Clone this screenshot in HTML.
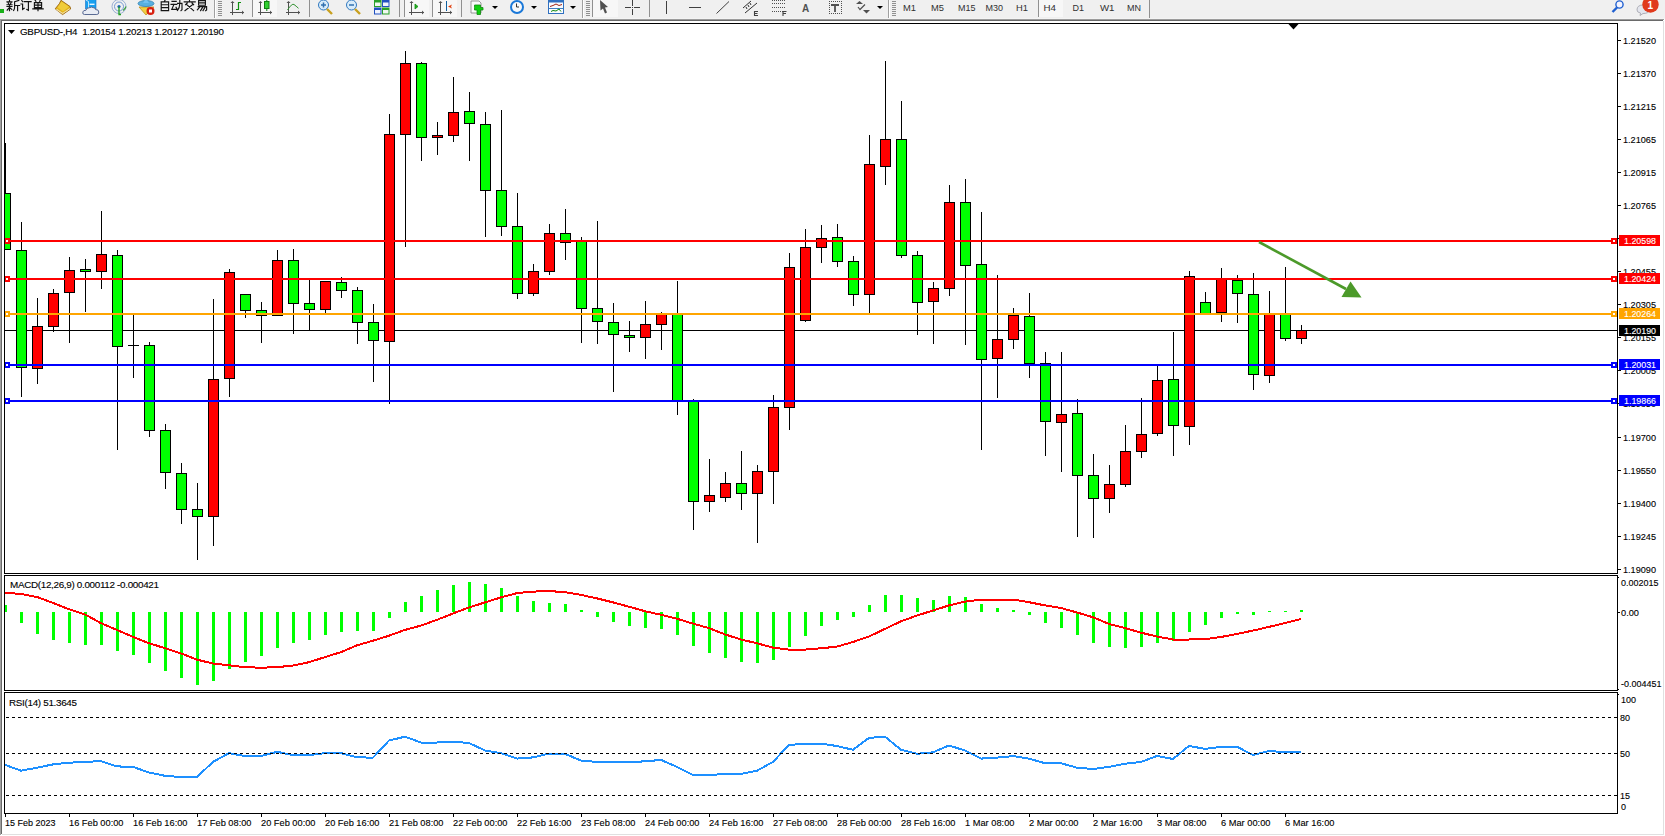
<!DOCTYPE html><html><head><meta charset="utf-8"><style>html,body{margin:0;padding:0;background:#fff;overflow:hidden}svg{display:block}text{font-family:"Liberation Sans",sans-serif}.ax text{stroke:currentColor;stroke-width:0.12px}</style></head><body><svg width="1665" height="836" viewBox="0 0 1665 836"><rect x="0" y="0" width="1665" height="836" fill="#ffffff"/><g shape-rendering="crispEdges"><rect x="0" y="0" width="1665" height="18" fill="#f0f0f0"/><rect x="0" y="18" width="1665" height="1" fill="#f4f4f4"/><rect x="0" y="19" width="1664" height="1" fill="#9c9c9c"/><rect x="1" y="20" width="1662" height="1" fill="#6a6a6a"/><rect x="0" y="20" width="1" height="815" fill="#a0a0a0"/><rect x="1" y="21" width="1" height="813" fill="#6a6a6a"/><rect x="1663" y="21" width="1" height="814" fill="#e0e0e0"/><rect x="2" y="834" width="1662" height="1" fill="#e0e0e0"/></g><g id="toolbar">
<rect x="0" y="9" width="4" height="4" fill="#18b018"/>
<!-- 新订单 approximated strokes -->
<g stroke="#141414" stroke-width="1.15" fill="none" stroke-linecap="square">
<path d="M9.5,0.3v0.8M7,1.8h5M8.2,3l0.6,1M11,3l-0.6,1M7,4.7h5M7,6.5h5M9.5,4.7v6M9.5,7.3l-2.3,2.8M9.6,7.3l2.2,2.2"/>
<path d="M18.8,0.4l-4.2,1.4M14.6,1.8v5.5q0,2.2-1,3.2M14.6,5.5h5M17.6,5.5v5.2"/>
<path d="M21.8,0.6l0.9,1M21,4h1.6v5.4l1.6-1.2M24.3,1.6h6.8M28.4,1.6v8.6l-1.6-0.8"/>
<path d="M35,0l0.9,1.3M40.5,0l-0.9,1.3M34.4,2.6h7.2v5h-7.2zM34.4,5.1h7.2M38,2.6v8.2M32.8,8.8h10.4"/>
</g>
<!-- book icon -->
<path d="M61,0.3 L70,6.5 L70.6,9 L62.6,14.6 L55.2,8.8 L59.3,3.8 Z" fill="#e2b21c" stroke="#9a6410" stroke-width="0.9" stroke-linejoin="round"/>
<path d="M61.5,1.5 L69,6.8 L63,11.5 L57.5,7.5 Z" fill="#f0cc3a"/>
<path d="M56.5,9.2 L62.6,13.4 L69.8,8.6" fill="none" stroke="#f2e2a8" stroke-width="1.1"/>
<!-- server cloud -->
<path d="M85.5,-0.5 h10.5 v9.5 h-10.5 Z" fill="#18a0f0" stroke="#1070c8" stroke-width="0.6"/>
<path d="M85.8,0 L88.5,1.5 V9" fill="none" stroke="#e8f6ff" stroke-width="0.8"/>
<rect x="89.5" y="3.6" width="5" height="1.4" fill="#e8f6ff"/>
<path d="M84.5,14.5 Q82.3,14.5 82.8,12 Q83.4,10 85.8,10.4 Q86.4,7.6 89.8,7.6 Q91.4,6.6 93.2,7.6 Q95.5,7.6 95.6,9.6 Q98.6,9.2 98.8,12 Q99,14.5 96.8,14.5 Z" fill="#e8ecf4" stroke="#485a88" stroke-width="0.9"/>
<!-- radar -->
<circle cx="119" cy="6.5" r="7" fill="none" stroke="#90a8d0" stroke-width="0.9"/>
<circle cx="119" cy="6.5" r="4.5" fill="none" stroke="#6890d0" stroke-width="0.9"/>
<path d="M119,6.5 L126,13" stroke="#60b060" stroke-width="0" fill="none"/>
<path d="M123,10.5 A7,7 0 0 0 126,6.5" stroke="#40a040" stroke-width="1.2" fill="none"/>
<circle cx="119" cy="6.5" r="1.6" fill="#2060c0"/>
<path d="M119,6.5 V14.5 H121" stroke="#20a020" stroke-width="1.3" fill="none"/>
<!-- auto trading icon -->
<path d="M139,7 L154,7 L146,15 Z" fill="#f0d040" stroke="#c09020" stroke-width="0.8"/>
<ellipse cx="146" cy="3.5" rx="8" ry="3" fill="#58b0e0" stroke="#3080b0" stroke-width="0.8"/>
<path d="M143,3 L146,-2 L149,3 Z" fill="#70c0f0"/>
<circle cx="150.5" cy="11" r="4" fill="#d82010"/>
<rect x="149" y="9.5" width="3" height="3" fill="#fff"/>
<!-- 自动交易 -->
<g stroke="#141414" stroke-width="1.15" fill="none" stroke-linecap="square">
<path d="M165.2,0l-0.8,1.3M161.2,1.8h7.4v8.8h-7.4zM161.2,4.7h7.4M161.2,7.6h7.4"/>
<path d="M172,1.4h4.2M171,4.3h5.8M174,4.3l-2.2,5h5M176,7.2l1.2,2.2M177.6,3.3h4.4v6.4l-1,0.9M179.8,0.3v3q0,4.6-2.4,7.2"/>
<path d="M189.5,0v0.8M184.2,1.8h11M187.2,3l-1.6,1.7M192,3l1.6,1.7M186.8,4.8l6.8,5.8M192.4,4.8l-7.4,5.8"/>
<path d="M198.6,0.6h6.8v4.6h-6.8zM198.6,2.9h6.8M198.2,6.6h8.4v3.3l-1,0.8M200,6.6l-2.6,3.2M202.6,7.4l-2,3.2M205,7.4l-2,3.2"/>
</g>
<!-- separators and grips -->
<g shape-rendering="crispEdges">
<rect x="214" y="0" width="1" height="18" fill="#a0a0a0"/><rect x="215" y="0" width="1" height="18" fill="#ffffff"/>
<rect x="218" y="1" width="4" height="1" fill="#909090"/><rect x="218" y="3" width="4" height="1" fill="#909090"/><rect x="218" y="5" width="4" height="1" fill="#909090"/><rect x="218" y="7" width="4" height="1" fill="#909090"/><rect x="218" y="9" width="4" height="1" fill="#909090"/><rect x="218" y="11" width="4" height="1" fill="#909090"/><rect x="218" y="13" width="4" height="1" fill="#909090"/><rect x="218" y="15" width="4" height="1" fill="#909090"/>
<rect x="252" y="0" width="1" height="17" fill="#909090"/>
<rect x="253" y="0" width="24" height="17" fill="#f7f7f7"/>
<rect x="309" y="0" width="1" height="17" fill="#909090"/>
<rect x="399" y="0" width="1" height="17" fill="#909090"/>
<rect x="404" y="0" width="1" height="17" fill="#909090"/>
<rect x="405" y="0" width="24" height="17" fill="#f7f7f7"/>
<rect x="432" y="0" width="1" height="17" fill="#909090"/>
<rect x="433" y="0" width="24" height="17" fill="#f7f7f7"/>
<rect x="461" y="0" width="1" height="17" fill="#909090"/>
<rect x="582" y="0" width="1" height="18" fill="#a0a0a0"/><rect x="583" y="0" width="1" height="18" fill="#ffffff"/>
<rect x="586" y="1" width="4" height="1" fill="#909090"/><rect x="586" y="3" width="4" height="1" fill="#909090"/><rect x="586" y="5" width="4" height="1" fill="#909090"/><rect x="586" y="7" width="4" height="1" fill="#909090"/><rect x="586" y="9" width="4" height="1" fill="#909090"/><rect x="586" y="11" width="4" height="1" fill="#909090"/><rect x="586" y="13" width="4" height="1" fill="#909090"/><rect x="586" y="15" width="4" height="1" fill="#909090"/>
<rect x="592" y="0" width="1" height="17" fill="#909090"/>
<rect x="593" y="0" width="25" height="17" fill="#f7f7f7"/>
<rect x="649" y="0" width="1" height="17" fill="#909090"/>
<rect x="888" y="0" width="1" height="18" fill="#a0a0a0"/><rect x="889" y="0" width="1" height="18" fill="#ffffff"/>
<rect x="892" y="1" width="4" height="1" fill="#909090"/><rect x="892" y="3" width="4" height="1" fill="#909090"/><rect x="892" y="5" width="4" height="1" fill="#909090"/><rect x="892" y="7" width="4" height="1" fill="#909090"/><rect x="892" y="9" width="4" height="1" fill="#909090"/><rect x="892" y="11" width="4" height="1" fill="#909090"/><rect x="892" y="13" width="4" height="1" fill="#909090"/><rect x="892" y="15" width="4" height="1" fill="#909090"/>
<rect x="1038" y="0" width="1" height="17" fill="#909090"/>
<rect x="1039" y="0" width="24" height="17" fill="#f7f7f7"/>
<rect x="1149" y="0" width="1" height="18" fill="#909090"/>
</g>
<!-- chart type icons -->
<g stroke="#505050" stroke-width="1" fill="none" shape-rendering="crispEdges">
<path d="M232.5,2v12.5M230,12.5h14M233.5,12.5h0"/>
<path d="M260.5,2v12.5M258,12.5h14"/>
<path d="M288.5,2v12.5M286,12.5h14"/>
<path d="M411.5,2v12.5M409,12.5h15"/>
<path d="M440.5,2v12.5M438,12.5h14"/>
</g>
<g fill="#505050">
<path d="M230.5,3 L232.5,1 L234.5,3Z M242,10.5 L244,12.5 L242,14.5Z"/>
<path d="M258.5,3 L260.5,1 L262.5,3Z M270,10.5 L272,12.5 L270,14.5Z"/>
<path d="M286.5,3 L288.5,1 L290.5,3Z M298,10.5 L300,12.5 L298,14.5Z"/>
<path d="M409.5,3 L411.5,1 L413.5,3Z M422,10.5 L424,12.5 L422,14.5Z"/>
<path d="M438.5,3 L440.5,1 L442.5,3Z M450,10.5 L452,12.5 L450,14.5Z"/>
</g>
<path d="M236,9.5 H238.5 V2.5 H241" stroke="#109010" stroke-width="1.2" fill="none"/>
<rect x="264.5" y="1.5" width="4.5" height="7" fill="#30d030" stroke="#108010" stroke-width="1"/>
<path d="M266.8,0v1.5M266.8,8.5v2.5" stroke="#108010" stroke-width="1"/>
<path d="M287.5,10 Q292,3 294,4.5 Q296,6 298.5,8.3" stroke="#309030" stroke-width="1" fill="none"/>
<path d="M415,4 L418,6.5 L415,9Z" fill="#20b020" stroke="#109010" stroke-width="0.8"/>
<path d="M446.5,1v10" stroke="#1060a0" stroke-width="1"/>
<path d="M448,6.5 L452,4.5 L451,6.5 L452,8.5Z" fill="#e04010"/>
<!-- zoom icons -->
<circle cx="323.5" cy="5" r="5" fill="#d8ecfa" stroke="#3078c0" stroke-width="1"/>
<path d="M321,5h5M323.5,2.5v5" stroke="#3070b0" stroke-width="1.5"/>
<path d="M327,9 L332,14" stroke="#c8a020" stroke-width="2.4"/>
<circle cx="351.5" cy="5" r="5" fill="#d8ecfa" stroke="#3078c0" stroke-width="1"/>
<path d="M349,5h5" stroke="#3070b0" stroke-width="1.5"/>
<path d="M355,9 L360,14" stroke="#c8a020" stroke-width="2.4"/>
<!-- tile windows -->
<rect x="374" y="0" width="7.5" height="7" fill="#28a028"/><rect x="382" y="0" width="7.5" height="7" fill="#2050c0"/>
<rect x="374" y="7.5" width="7.5" height="7" fill="#2050c0"/><rect x="382" y="7.5" width="7.5" height="7" fill="#28a028"/>
<rect x="375" y="2.5" width="5.5" height="3.5" fill="#f0f8f0"/><rect x="383" y="2.5" width="5.5" height="3.5" fill="#f0f4ff"/>
<rect x="375" y="10" width="5.5" height="3.5" fill="#f0f4ff"/><rect x="383" y="10" width="5.5" height="3.5" fill="#f0f8f0"/>
<!-- new indicator -->
<path d="M471,1 H479 L481,3 V13 H471 Z" fill="#fafafa" stroke="#808080" stroke-width="0.8"/>
<path d="M475.5,6 h6 v2.5 h2.5 v2.5 h-2.5 v4.5 h-3.5 v-4.5 h-2.5 v-2.5 h0Z" fill="#10d010" stroke="#108810" stroke-width="0.8" transform="translate(-1,-1)"/>
<path d="M492,6 h6 l-3,3Z" fill="#000"/>
<circle cx="517" cy="7" r="7" fill="#1a78d8"/>
<circle cx="517" cy="7" r="5" fill="#f6f8fa"/>
<path d="M516.5,3.5v3.5h2.5" stroke="#333" stroke-width="1" fill="none"/>
<path d="M531,6 h6 l-3,3Z" fill="#000"/>
<rect x="548.5" y="0" width="15" height="13.5" fill="#fafcff" stroke="#3070c0" stroke-width="1"/>
<rect x="549" y="0" width="14" height="2.5" fill="#3070c0"/>
<path d="M550,6.5 L553,5.5 L556,4 L559,5.5 L562,4.5" stroke="#a02010" stroke-width="1" fill="none"/>
<rect x="549" y="8" width="14" height="1" fill="#4080c0"/>
<path d="M551,11.5 L553,10.5 L556,11 L559,9 L561,11.5" stroke="#108810" stroke-width="1" fill="none"/>
<path d="M570,6 h6 l-3,3Z" fill="#000"/>
<!-- cursor -->
<path d="M600,0 L608,7 L605,7.5 L607,12.5 L605,13.5 L603,8.5 L600.5,10.5 Z" fill="#505050"/>
<!-- crosshair -->
<path d="M632.5,0v15M625,7.5h15" stroke="#404040" stroke-width="1" shape-rendering="crispEdges"/>
<rect x="631" y="6" width="3" height="3" fill="#f0f0f0"/>
<rect x="632" y="7" width="1" height="1" fill="#404040"/>
<path d="M666.5,1v13M689,7.5h12" stroke="#404040" stroke-width="1" shape-rendering="crispEdges"/>
<path d="M716.5,13.5 L729,1.5" stroke="#404040" stroke-width="1"/>
<path d="M743,8 L751,1 M745,13 L757,3 M746,7l1,2M748,5l1,2M750,3l1,2" stroke="#303030" stroke-width="1" fill="none"/>
<path d="M758,11.5h-3.5v4h3.5M754.5,13.5h3" stroke="#404040" stroke-width="1.1" fill="none"/>
<g fill="#505050" shape-rendering="crispEdges">
<rect x="772" y="0" width="14" height="1"/><rect x="772" y="3" width="14" height="1"/><rect x="772" y="7" width="14" height="1"/><rect x="772" y="11" width="14" height="1"/>
</g>
<g fill="#f0f0f0" shape-rendering="crispEdges">
<rect x="773" y="0" width="1" height="12"/><rect x="775" y="0" width="1" height="12"/><rect x="777" y="0" width="1" height="12"/><rect x="779" y="0" width="1" height="12"/><rect x="781" y="0" width="1" height="12"/><rect x="783" y="0" width="1" height="12"/><rect x="785" y="0" width="1" height="12"/>
</g>
<path d="M786.5,11.5h-3.5v4.5M783,13.5h3" stroke="#404040" stroke-width="1.1" fill="none"/>
<text x="802" y="12" font-size="10px" font-weight="bold" fill="#505050">A</text>
<g fill="#505050" shape-rendering="crispEdges"><rect x="829" y="1" width="1" height="1"/><rect x="829" y="13" width="1" height="1"/><rect x="831" y="1" width="1" height="1"/><rect x="831" y="13" width="1" height="1"/><rect x="833" y="1" width="1" height="1"/><rect x="833" y="13" width="1" height="1"/><rect x="835" y="1" width="1" height="1"/><rect x="835" y="13" width="1" height="1"/><rect x="837" y="1" width="1" height="1"/><rect x="837" y="13" width="1" height="1"/><rect x="839" y="1" width="1" height="1"/><rect x="839" y="13" width="1" height="1"/><rect x="841" y="1" width="1" height="1"/><rect x="841" y="13" width="1" height="1"/><rect x="829" y="3" width="1" height="1"/><rect x="841" y="3" width="1" height="1"/><rect x="829" y="5" width="1" height="1"/><rect x="841" y="5" width="1" height="1"/><rect x="829" y="7" width="1" height="1"/><rect x="841" y="7" width="1" height="1"/><rect x="829" y="9" width="1" height="1"/><rect x="841" y="9" width="1" height="1"/><rect x="829" y="11" width="1" height="1"/><rect x="841" y="11" width="1" height="1"/></g><path d="M831,5h8M835,5v7" stroke="#505050" stroke-width="1.8" fill="none"/>
<!-- arrows icon -->
<path d="M856,4 L859.5,1 L863,4 Z" fill="#505050"/>
<path d="M858,7 L860,9.5 L865,4.5" stroke="#505050" stroke-width="1.2" fill="none"/>
<path d="M863,10 L866.5,13.5 L870,10 Z" fill="#505050"/>
<path d="M877,6 h6 l-3,3Z" fill="#000"/>
</g>
<g font-size="9.4px" fill="#303030">
<text x="903" y="11" textLength="13" lengthAdjust="spacingAndGlyphs">M1</text>
<text x="931" y="11" textLength="13" lengthAdjust="spacingAndGlyphs">M5</text>
<text x="958" y="11" textLength="17.5" lengthAdjust="spacingAndGlyphs">M15</text>
<text x="985.5" y="11" textLength="17.5" lengthAdjust="spacingAndGlyphs">M30</text>
<text x="1016" y="11" textLength="12" lengthAdjust="spacingAndGlyphs">H1</text>
<text x="1043.5" y="11" textLength="12.5" lengthAdjust="spacingAndGlyphs">H4</text>
<text x="1072.5" y="11" textLength="11.5" lengthAdjust="spacingAndGlyphs">D1</text>
<text x="1100" y="11" textLength="14.5" lengthAdjust="spacingAndGlyphs">W1</text>
<text x="1127" y="11" textLength="14" lengthAdjust="spacingAndGlyphs">MN</text>
</g>
<!-- search & chat -->
<circle cx="1619.5" cy="4.5" r="3.6" fill="#f4f4ff" stroke="#2060d0" stroke-width="1.4"/>
<path d="M1617,7.5 L1612.5,12" stroke="#2060d0" stroke-width="2.4"/>
<path d="M1637,10 Q1637,5 1643,5 Q1649,5 1649,10 Q1649,13.5 1643,13.5 L1640,15.5 L1640.5,13 Q1637,12.5 1637,10Z" fill="#e4e6ee" stroke="#a0a0a8" stroke-width="0.8"/>
<circle cx="1650.5" cy="4.5" r="8.2" fill="#e03a1c"/>
<text x="1647.6" y="8.5" font-size="10px" font-family="Liberation Serif" font-weight="bold" fill="#fff">1</text>
<defs><clipPath id="mainclip"><rect x="5" y="24" width="1612" height="549"/></clipPath></defs><g shape-rendering="crispEdges" clip-path="url(#mainclip)"><rect x="5" y="330" width="1612" height="1" fill="#000"/><rect x="5" y="143" width="1" height="106" fill="#000"/><rect x="0" y="193" width="11" height="57" fill="#000"/><rect x="1" y="194" width="9" height="55" fill="#00ff00"/><rect x="21" y="222" width="1" height="175" fill="#000"/><rect x="16" y="250" width="11" height="118" fill="#000"/><rect x="17" y="251" width="9" height="116" fill="#00ff00"/><rect x="37" y="298" width="1" height="86" fill="#000"/><rect x="32" y="326" width="11" height="43" fill="#000"/><rect x="33" y="327" width="9" height="41" fill="#ff0000"/><rect x="53" y="289" width="1" height="43" fill="#000"/><rect x="48" y="293" width="11" height="34" fill="#000"/><rect x="49" y="294" width="9" height="32" fill="#ff0000"/><rect x="69" y="257" width="1" height="86" fill="#000"/><rect x="64" y="270" width="11" height="23" fill="#000"/><rect x="65" y="271" width="9" height="21" fill="#ff0000"/><rect x="85" y="259" width="1" height="53" fill="#000"/><rect x="80" y="269" width="11" height="3" fill="#000"/><rect x="81" y="270" width="9" height="1" fill="#00ff00"/><rect x="101" y="211" width="1" height="78" fill="#000"/><rect x="96" y="254" width="11" height="18" fill="#000"/><rect x="97" y="255" width="9" height="16" fill="#ff0000"/><rect x="117" y="250" width="1" height="200" fill="#000"/><rect x="112" y="255" width="11" height="92" fill="#000"/><rect x="113" y="256" width="9" height="90" fill="#00ff00"/><rect x="133" y="315" width="1" height="63" fill="#000"/><rect x="128" y="345" width="11" height="1" fill="#000"/><rect x="149" y="342" width="1" height="95" fill="#000"/><rect x="144" y="345" width="11" height="86" fill="#000"/><rect x="145" y="346" width="9" height="84" fill="#00ff00"/><rect x="165" y="424" width="1" height="65" fill="#000"/><rect x="160" y="430" width="11" height="43" fill="#000"/><rect x="161" y="431" width="9" height="41" fill="#00ff00"/><rect x="181" y="463" width="1" height="61" fill="#000"/><rect x="176" y="473" width="11" height="37" fill="#000"/><rect x="177" y="474" width="9" height="35" fill="#00ff00"/><rect x="197" y="483" width="1" height="77" fill="#000"/><rect x="192" y="509" width="11" height="8" fill="#000"/><rect x="193" y="510" width="9" height="6" fill="#00ff00"/><rect x="213" y="299" width="1" height="247" fill="#000"/><rect x="208" y="379" width="11" height="138" fill="#000"/><rect x="209" y="380" width="9" height="136" fill="#ff0000"/><rect x="229" y="269" width="1" height="128" fill="#000"/><rect x="224" y="272" width="11" height="107" fill="#000"/><rect x="225" y="273" width="9" height="105" fill="#ff0000"/><rect x="245" y="294" width="1" height="24" fill="#000"/><rect x="240" y="294" width="11" height="17" fill="#000"/><rect x="241" y="295" width="9" height="15" fill="#00ff00"/><rect x="261" y="302" width="1" height="41" fill="#000"/><rect x="256" y="310" width="11" height="6" fill="#000"/><rect x="257" y="311" width="9" height="4" fill="#00ff00"/><rect x="277" y="250" width="1" height="66" fill="#000"/><rect x="272" y="260" width="11" height="56" fill="#000"/><rect x="273" y="261" width="9" height="54" fill="#ff0000"/><rect x="293" y="249" width="1" height="85" fill="#000"/><rect x="288" y="260" width="11" height="44" fill="#000"/><rect x="289" y="261" width="9" height="42" fill="#00ff00"/><rect x="309" y="280" width="1" height="50" fill="#000"/><rect x="304" y="303" width="11" height="7" fill="#000"/><rect x="305" y="304" width="9" height="5" fill="#00ff00"/><rect x="325" y="281" width="1" height="34" fill="#000"/><rect x="320" y="281" width="11" height="29" fill="#000"/><rect x="321" y="282" width="9" height="27" fill="#ff0000"/><rect x="341" y="277" width="1" height="21" fill="#000"/><rect x="336" y="282" width="11" height="9" fill="#000"/><rect x="337" y="283" width="9" height="7" fill="#00ff00"/><rect x="357" y="287" width="1" height="57" fill="#000"/><rect x="352" y="290" width="11" height="33" fill="#000"/><rect x="353" y="291" width="9" height="31" fill="#00ff00"/><rect x="373" y="304" width="1" height="78" fill="#000"/><rect x="368" y="322" width="11" height="19" fill="#000"/><rect x="369" y="323" width="9" height="17" fill="#00ff00"/><rect x="389" y="114" width="1" height="290" fill="#000"/><rect x="384" y="134" width="11" height="208" fill="#000"/><rect x="385" y="135" width="9" height="206" fill="#ff0000"/><rect x="405" y="51" width="1" height="196" fill="#000"/><rect x="400" y="63" width="11" height="72" fill="#000"/><rect x="401" y="64" width="9" height="70" fill="#ff0000"/><rect x="421" y="62" width="1" height="99" fill="#000"/><rect x="416" y="63" width="11" height="75" fill="#000"/><rect x="417" y="64" width="9" height="73" fill="#00ff00"/><rect x="437" y="122" width="1" height="33" fill="#000"/><rect x="432" y="135" width="11" height="3" fill="#000"/><rect x="433" y="136" width="9" height="1" fill="#ff0000"/><rect x="453" y="77" width="1" height="65" fill="#000"/><rect x="448" y="112" width="11" height="24" fill="#000"/><rect x="449" y="113" width="9" height="22" fill="#ff0000"/><rect x="469" y="92" width="1" height="69" fill="#000"/><rect x="464" y="111" width="11" height="13" fill="#000"/><rect x="465" y="112" width="9" height="11" fill="#00ff00"/><rect x="485" y="112" width="1" height="125" fill="#000"/><rect x="480" y="124" width="11" height="67" fill="#000"/><rect x="481" y="125" width="9" height="65" fill="#00ff00"/><rect x="501" y="110" width="1" height="126" fill="#000"/><rect x="496" y="190" width="11" height="37" fill="#000"/><rect x="497" y="191" width="9" height="35" fill="#00ff00"/><rect x="517" y="193" width="1" height="106" fill="#000"/><rect x="512" y="226" width="11" height="68" fill="#000"/><rect x="513" y="227" width="9" height="66" fill="#00ff00"/><rect x="533" y="264" width="1" height="32" fill="#000"/><rect x="528" y="271" width="11" height="23" fill="#000"/><rect x="529" y="272" width="9" height="21" fill="#ff0000"/><rect x="549" y="224" width="1" height="51" fill="#000"/><rect x="544" y="233" width="11" height="39" fill="#000"/><rect x="545" y="234" width="9" height="37" fill="#ff0000"/><rect x="565" y="209" width="1" height="51" fill="#000"/><rect x="560" y="233" width="11" height="10" fill="#000"/><rect x="561" y="234" width="9" height="8" fill="#00ff00"/><rect x="581" y="237" width="1" height="106" fill="#000"/><rect x="576" y="241" width="11" height="68" fill="#000"/><rect x="577" y="242" width="9" height="66" fill="#00ff00"/><rect x="597" y="221" width="1" height="123" fill="#000"/><rect x="592" y="308" width="11" height="14" fill="#000"/><rect x="593" y="309" width="9" height="12" fill="#00ff00"/><rect x="613" y="303" width="1" height="89" fill="#000"/><rect x="608" y="322" width="11" height="13" fill="#000"/><rect x="609" y="323" width="9" height="11" fill="#00ff00"/><rect x="629" y="321" width="1" height="31" fill="#000"/><rect x="624" y="335" width="11" height="3" fill="#000"/><rect x="625" y="336" width="9" height="1" fill="#00ff00"/><rect x="645" y="301" width="1" height="58" fill="#000"/><rect x="640" y="324" width="11" height="14" fill="#000"/><rect x="641" y="325" width="9" height="12" fill="#ff0000"/><rect x="661" y="312" width="1" height="38" fill="#000"/><rect x="656" y="314" width="11" height="11" fill="#000"/><rect x="657" y="315" width="9" height="9" fill="#ff0000"/><rect x="677" y="281" width="1" height="134" fill="#000"/><rect x="672" y="314" width="11" height="87" fill="#000"/><rect x="673" y="315" width="9" height="85" fill="#00ff00"/><rect x="693" y="399" width="1" height="131" fill="#000"/><rect x="688" y="400" width="11" height="102" fill="#000"/><rect x="689" y="401" width="9" height="100" fill="#00ff00"/><rect x="709" y="459" width="1" height="53" fill="#000"/><rect x="704" y="495" width="11" height="7" fill="#000"/><rect x="705" y="496" width="9" height="5" fill="#ff0000"/><rect x="725" y="472" width="1" height="30" fill="#000"/><rect x="720" y="483" width="11" height="15" fill="#000"/><rect x="721" y="484" width="9" height="13" fill="#ff0000"/><rect x="741" y="451" width="1" height="59" fill="#000"/><rect x="736" y="483" width="11" height="11" fill="#000"/><rect x="737" y="484" width="9" height="9" fill="#00ff00"/><rect x="757" y="465" width="1" height="78" fill="#000"/><rect x="752" y="471" width="11" height="23" fill="#000"/><rect x="753" y="472" width="9" height="21" fill="#ff0000"/><rect x="773" y="395" width="1" height="109" fill="#000"/><rect x="768" y="407" width="11" height="65" fill="#000"/><rect x="769" y="408" width="9" height="63" fill="#ff0000"/><rect x="789" y="253" width="1" height="177" fill="#000"/><rect x="784" y="267" width="11" height="141" fill="#000"/><rect x="785" y="268" width="9" height="139" fill="#ff0000"/><rect x="805" y="229" width="1" height="93" fill="#000"/><rect x="800" y="247" width="11" height="74" fill="#000"/><rect x="801" y="248" width="9" height="72" fill="#ff0000"/><rect x="821" y="225" width="1" height="38" fill="#000"/><rect x="816" y="238" width="11" height="10" fill="#000"/><rect x="817" y="239" width="9" height="8" fill="#ff0000"/><rect x="837" y="224" width="1" height="43" fill="#000"/><rect x="832" y="237" width="11" height="25" fill="#000"/><rect x="833" y="238" width="9" height="23" fill="#00ff00"/><rect x="853" y="256" width="1" height="50" fill="#000"/><rect x="848" y="261" width="11" height="34" fill="#000"/><rect x="849" y="262" width="9" height="32" fill="#00ff00"/><rect x="869" y="135" width="1" height="178" fill="#000"/><rect x="864" y="164" width="11" height="131" fill="#000"/><rect x="865" y="165" width="9" height="129" fill="#ff0000"/><rect x="885" y="61" width="1" height="124" fill="#000"/><rect x="880" y="139" width="11" height="28" fill="#000"/><rect x="881" y="140" width="9" height="26" fill="#ff0000"/><rect x="901" y="101" width="1" height="157" fill="#000"/><rect x="896" y="139" width="11" height="117" fill="#000"/><rect x="897" y="140" width="9" height="115" fill="#00ff00"/><rect x="917" y="251" width="1" height="84" fill="#000"/><rect x="912" y="255" width="11" height="48" fill="#000"/><rect x="913" y="256" width="9" height="46" fill="#00ff00"/><rect x="933" y="282" width="1" height="62" fill="#000"/><rect x="928" y="288" width="11" height="14" fill="#000"/><rect x="929" y="289" width="9" height="12" fill="#ff0000"/><rect x="949" y="185" width="1" height="111" fill="#000"/><rect x="944" y="202" width="11" height="87" fill="#000"/><rect x="945" y="203" width="9" height="85" fill="#ff0000"/><rect x="965" y="179" width="1" height="166" fill="#000"/><rect x="960" y="202" width="11" height="64" fill="#000"/><rect x="961" y="203" width="9" height="62" fill="#00ff00"/><rect x="981" y="212" width="1" height="238" fill="#000"/><rect x="976" y="264" width="11" height="96" fill="#000"/><rect x="977" y="265" width="9" height="94" fill="#00ff00"/><rect x="997" y="275" width="1" height="123" fill="#000"/><rect x="992" y="339" width="11" height="20" fill="#000"/><rect x="993" y="340" width="9" height="18" fill="#ff0000"/><rect x="1013" y="308" width="1" height="41" fill="#000"/><rect x="1008" y="315" width="11" height="25" fill="#000"/><rect x="1009" y="316" width="9" height="23" fill="#ff0000"/><rect x="1029" y="293" width="1" height="85" fill="#000"/><rect x="1024" y="316" width="11" height="48" fill="#000"/><rect x="1025" y="317" width="9" height="46" fill="#00ff00"/><rect x="1045" y="352" width="1" height="104" fill="#000"/><rect x="1040" y="363" width="11" height="59" fill="#000"/><rect x="1041" y="364" width="9" height="57" fill="#00ff00"/><rect x="1061" y="352" width="1" height="120" fill="#000"/><rect x="1056" y="414" width="11" height="9" fill="#000"/><rect x="1057" y="415" width="9" height="7" fill="#ff0000"/><rect x="1077" y="399" width="1" height="138" fill="#000"/><rect x="1072" y="413" width="11" height="63" fill="#000"/><rect x="1073" y="414" width="9" height="61" fill="#00ff00"/><rect x="1093" y="454" width="1" height="84" fill="#000"/><rect x="1088" y="475" width="11" height="24" fill="#000"/><rect x="1089" y="476" width="9" height="22" fill="#00ff00"/><rect x="1109" y="465" width="1" height="48" fill="#000"/><rect x="1104" y="484" width="11" height="15" fill="#000"/><rect x="1105" y="485" width="9" height="13" fill="#ff0000"/><rect x="1125" y="425" width="1" height="62" fill="#000"/><rect x="1120" y="451" width="11" height="34" fill="#000"/><rect x="1121" y="452" width="9" height="32" fill="#ff0000"/><rect x="1141" y="398" width="1" height="60" fill="#000"/><rect x="1136" y="434" width="11" height="18" fill="#000"/><rect x="1137" y="435" width="9" height="16" fill="#ff0000"/><rect x="1157" y="365" width="1" height="71" fill="#000"/><rect x="1152" y="380" width="11" height="54" fill="#000"/><rect x="1153" y="381" width="9" height="52" fill="#ff0000"/><rect x="1173" y="332" width="1" height="124" fill="#000"/><rect x="1168" y="379" width="11" height="47" fill="#000"/><rect x="1169" y="380" width="9" height="45" fill="#00ff00"/><rect x="1189" y="271" width="1" height="174" fill="#000"/><rect x="1184" y="276" width="11" height="151" fill="#000"/><rect x="1185" y="277" width="9" height="149" fill="#ff0000"/><rect x="1205" y="292" width="1" height="21" fill="#000"/><rect x="1200" y="302" width="11" height="12" fill="#000"/><rect x="1201" y="303" width="9" height="10" fill="#00ff00"/><rect x="1221" y="268" width="1" height="54" fill="#000"/><rect x="1216" y="279" width="11" height="34" fill="#000"/><rect x="1217" y="280" width="9" height="32" fill="#ff0000"/><rect x="1237" y="275" width="1" height="48" fill="#000"/><rect x="1232" y="280" width="11" height="14" fill="#000"/><rect x="1233" y="281" width="9" height="12" fill="#00ff00"/><rect x="1253" y="273" width="1" height="117" fill="#000"/><rect x="1248" y="294" width="11" height="81" fill="#000"/><rect x="1249" y="295" width="9" height="79" fill="#00ff00"/><rect x="1269" y="291" width="1" height="92" fill="#000"/><rect x="1264" y="314" width="11" height="62" fill="#000"/><rect x="1265" y="315" width="9" height="60" fill="#ff0000"/><rect x="1285" y="267" width="1" height="74" fill="#000"/><rect x="1280" y="314" width="11" height="25" fill="#000"/><rect x="1281" y="315" width="9" height="23" fill="#00ff00"/><rect x="1301" y="325" width="1" height="19" fill="#000"/><rect x="1296" y="330" width="11" height="9" fill="#000"/><rect x="1297" y="331" width="9" height="7" fill="#ff0000"/></g><g shape-rendering="crispEdges"><rect x="5" y="240" width="1612" height="2" fill="#ff0000"/><rect x="4" y="238" width="6" height="6" fill="#ff0000"/><rect x="6" y="240" width="2" height="2" fill="#fff"/><rect x="1611" y="238" width="6" height="6" fill="#ff0000"/><rect x="1613" y="240" width="2" height="2" fill="#fff"/><rect x="5" y="278" width="1612" height="2" fill="#ff0000"/><rect x="4" y="276" width="6" height="6" fill="#ff0000"/><rect x="6" y="278" width="2" height="2" fill="#fff"/><rect x="1611" y="276" width="6" height="6" fill="#ff0000"/><rect x="1613" y="278" width="2" height="2" fill="#fff"/><rect x="5" y="313" width="1612" height="2" fill="#ffa500"/><rect x="4" y="311" width="6" height="6" fill="#ffa500"/><rect x="6" y="313" width="2" height="2" fill="#fff"/><rect x="1611" y="311" width="6" height="6" fill="#ffa500"/><rect x="1613" y="313" width="2" height="2" fill="#fff"/><rect x="5" y="364" width="1612" height="2" fill="#0000ff"/><rect x="4" y="362" width="6" height="6" fill="#0000ff"/><rect x="6" y="364" width="2" height="2" fill="#fff"/><rect x="1611" y="362" width="6" height="6" fill="#0000ff"/><rect x="1613" y="364" width="2" height="2" fill="#fff"/><rect x="5" y="400" width="1612" height="2" fill="#0000ff"/><rect x="4" y="398" width="6" height="6" fill="#0000ff"/><rect x="6" y="400" width="2" height="2" fill="#fff"/><rect x="1611" y="398" width="6" height="6" fill="#0000ff"/><rect x="1613" y="400" width="2" height="2" fill="#fff"/></g><line x1="1259" y1="242" x2="1346" y2="289" stroke="#4c9a2a" stroke-width="2.6"/><polygon points="1350.5,281.5 1341.5,297 1361.5,297.5" fill="#4c9a2a"/><g shape-rendering="crispEdges" fill="#000"><rect x="4" y="23" width="1614" height="1"/><rect x="4" y="23" width="1" height="551"/><rect x="4" y="573" width="1614" height="1"/><rect x="1617" y="23" width="1" height="551"/><rect x="4" y="575" width="1614" height="1"/><rect x="4" y="575" width="1" height="116"/><rect x="4" y="690" width="1614" height="1"/><rect x="1617" y="575" width="1" height="116"/><rect x="4" y="692" width="1614" height="1"/><rect x="4" y="692" width="1" height="122"/><rect x="4" y="813" width="1614" height="1"/><rect x="1617" y="692" width="1" height="122"/></g><g shape-rendering="crispEdges" fill="#000"><rect x="1618" y="40" width="3" height="1"/><rect x="1618" y="73" width="3" height="1"/><rect x="1618" y="106" width="3" height="1"/><rect x="1618" y="139" width="3" height="1"/><rect x="1618" y="172" width="3" height="1"/><rect x="1618" y="205" width="3" height="1"/><rect x="1618" y="238" width="3" height="1"/><rect x="1618" y="271" width="3" height="1"/><rect x="1618" y="304" width="3" height="1"/><rect x="1618" y="337" width="3" height="1"/><rect x="1618" y="370" width="3" height="1"/><rect x="1618" y="403" width="3" height="1"/><rect x="1618" y="437" width="3" height="1"/><rect x="1618" y="470" width="3" height="1"/><rect x="1618" y="503" width="3" height="1"/><rect x="1618" y="536" width="3" height="1"/><rect x="1618" y="569" width="3" height="1"/></g><g class="ax" font-size="9.9px" fill="#000" color="#000"><text x="1623" y="44" textLength="33" lengthAdjust="spacingAndGlyphs">1.21520</text><text x="1623" y="77" textLength="33" lengthAdjust="spacingAndGlyphs">1.21370</text><text x="1623" y="110" textLength="33" lengthAdjust="spacingAndGlyphs">1.21215</text><text x="1623" y="143" textLength="33" lengthAdjust="spacingAndGlyphs">1.21065</text><text x="1623" y="176" textLength="33" lengthAdjust="spacingAndGlyphs">1.20915</text><text x="1623" y="209" textLength="33" lengthAdjust="spacingAndGlyphs">1.20765</text><text x="1623" y="242" textLength="33" lengthAdjust="spacingAndGlyphs">1.20610</text><text x="1623" y="275" textLength="33" lengthAdjust="spacingAndGlyphs">1.20455</text><text x="1623" y="308" textLength="33" lengthAdjust="spacingAndGlyphs">1.20305</text><text x="1623" y="341" textLength="33" lengthAdjust="spacingAndGlyphs">1.20155</text><text x="1623" y="374" textLength="33" lengthAdjust="spacingAndGlyphs">1.20005</text><text x="1623" y="407" textLength="33" lengthAdjust="spacingAndGlyphs">1.19850</text><text x="1623" y="441" textLength="33" lengthAdjust="spacingAndGlyphs">1.19700</text><text x="1623" y="474" textLength="33" lengthAdjust="spacingAndGlyphs">1.19550</text><text x="1623" y="507" textLength="33" lengthAdjust="spacingAndGlyphs">1.19400</text><text x="1623" y="540" textLength="33" lengthAdjust="spacingAndGlyphs">1.19245</text><text x="1623" y="573" textLength="33" lengthAdjust="spacingAndGlyphs">1.19090</text></g><g shape-rendering="crispEdges"><rect x="1619" y="235" width="41" height="11" fill="#ff0000"/><rect x="1619" y="273" width="41" height="11" fill="#ff0000"/><rect x="1619" y="308" width="41" height="11" fill="#ffa500"/><rect x="1619" y="359" width="41" height="11" fill="#0000ff"/><rect x="1619" y="395" width="41" height="11" fill="#0000ff"/><rect x="1619" y="325" width="41" height="11" fill="#000"/></g><g class="ax" font-size="9.9px" fill="#fff" color="#fff"><text x="1624" y="244" textLength="32" lengthAdjust="spacingAndGlyphs">1.20598</text><text x="1624" y="282" textLength="32" lengthAdjust="spacingAndGlyphs">1.20424</text><text x="1624" y="317" textLength="32" lengthAdjust="spacingAndGlyphs">1.20264</text><text x="1624" y="368" textLength="32" lengthAdjust="spacingAndGlyphs">1.20031</text><text x="1624" y="404" textLength="32" lengthAdjust="spacingAndGlyphs">1.19866</text><text x="1624" y="334" textLength="32" lengthAdjust="spacingAndGlyphs">1.20190</text></g><polygon points="1287.5,23 1299.5,23 1293.5,29.5" fill="#000"/><polygon points="8,30 15,30 11.5,34" fill="#000"/><text x="20" y="35" font-size="9.8px" fill="#000" stroke="#000" stroke-width="0.12" textLength="204" lengthAdjust="spacing" xml:space="preserve">GBPUSD-,H4&#160; 1.20154 1.20213 1.20127 1.20190</text><g shape-rendering="crispEdges" fill="#00ff00"><rect x="5" y="605" width="2" height="7"/><rect x="20" y="612" width="3" height="11"/><rect x="36" y="612" width="3" height="22"/><rect x="52" y="612" width="3" height="28"/><rect x="68" y="612" width="3" height="31"/><rect x="84" y="612" width="3" height="33"/><rect x="100" y="612" width="3" height="33"/><rect x="116" y="612" width="3" height="39"/><rect x="132" y="612" width="3" height="43"/><rect x="148" y="612" width="3" height="51"/><rect x="164" y="612" width="3" height="59"/><rect x="180" y="612" width="3" height="66"/><rect x="196" y="612" width="3" height="73"/><rect x="212" y="612" width="3" height="69"/><rect x="228" y="612" width="3" height="57"/><rect x="244" y="612" width="3" height="50"/><rect x="260" y="612" width="3" height="44"/><rect x="276" y="612" width="3" height="36"/><rect x="292" y="612" width="3" height="31"/><rect x="308" y="612" width="3" height="28"/><rect x="324" y="612" width="3" height="23"/><rect x="340" y="612" width="3" height="20"/><rect x="356" y="612" width="3" height="19"/><rect x="372" y="612" width="3" height="19"/><rect x="388" y="612" width="3" height="6"/><rect x="404" y="602" width="3" height="10"/><rect x="420" y="596" width="3" height="16"/><rect x="436" y="590" width="3" height="22"/><rect x="452" y="585" width="3" height="27"/><rect x="468" y="582" width="3" height="30"/><rect x="484" y="584" width="3" height="28"/><rect x="500" y="588" width="3" height="24"/><rect x="516" y="596" width="3" height="16"/><rect x="532" y="601" width="3" height="11"/><rect x="548" y="603" width="3" height="9"/><rect x="564" y="604" width="3" height="8"/><rect x="580" y="610" width="3" height="2"/><rect x="596" y="612" width="3" height="5"/><rect x="612" y="612" width="3" height="10"/><rect x="628" y="612" width="3" height="14"/><rect x="644" y="612" width="3" height="16"/><rect x="660" y="612" width="3" height="17"/><rect x="676" y="612" width="3" height="23"/><rect x="692" y="612" width="3" height="34"/><rect x="708" y="612" width="3" height="41"/><rect x="724" y="612" width="3" height="46"/><rect x="740" y="612" width="3" height="50"/><rect x="756" y="612" width="3" height="51"/><rect x="772" y="612" width="3" height="48"/><rect x="788" y="612" width="3" height="35"/><rect x="804" y="612" width="3" height="24"/><rect x="820" y="612" width="3" height="14"/><rect x="836" y="612" width="3" height="8"/><rect x="852" y="612" width="3" height="5"/><rect x="868" y="605" width="3" height="7"/><rect x="884" y="595" width="3" height="17"/><rect x="900" y="595" width="3" height="17"/><rect x="916" y="598" width="3" height="14"/><rect x="932" y="600" width="3" height="12"/><rect x="948" y="596" width="3" height="16"/><rect x="964" y="597" width="3" height="15"/><rect x="980" y="604" width="3" height="8"/><rect x="996" y="608" width="3" height="4"/><rect x="1012" y="610" width="3" height="2"/><rect x="1028" y="612" width="3" height="3"/><rect x="1044" y="612" width="3" height="11"/><rect x="1060" y="612" width="3" height="16"/><rect x="1076" y="612" width="3" height="23"/><rect x="1092" y="612" width="3" height="31"/><rect x="1108" y="612" width="3" height="35"/><rect x="1124" y="612" width="3" height="36"/><rect x="1140" y="612" width="3" height="35"/><rect x="1156" y="612" width="3" height="31"/><rect x="1172" y="612" width="3" height="29"/><rect x="1188" y="612" width="3" height="20"/><rect x="1204" y="612" width="3" height="13"/><rect x="1220" y="612" width="3" height="6"/><rect x="1236" y="612" width="3" height="2"/><rect x="1252" y="612" width="3" height="3"/><rect x="1268" y="611" width="3" height="1"/><rect x="1284" y="611" width="3" height="1"/><rect x="1300" y="610" width="3" height="2"/></g><polyline points="5,592.7 21,594.0 37,597.0 53,602.9 69,609.2 85,614.4 101,623.2 117,630.0 133,636.9 149,643.2 165,648.2 181,653.4 197,659.7 213,663.5 229,665.2 245,667.2 261,667.7 277,667.2 293,665.5 309,662.2 325,657.1 341,652.1 357,645.3 373,640.7 389,635.7 405,629.9 421,625.6 437,619.8 453,613.5 469,607.5 485,602.4 501,597.4 517,593.1 533,591.6 549,591.1 565,592.1 581,594.9 597,598.4 613,602.4 629,606.7 645,611.2 661,614.8 677,618.8 693,623.6 709,628.1 725,634.4 741,639.5 757,643.3 773,647.6 789,649.6 805,649.6 821,648.3 837,646.6 853,642.0 869,636.5 885,628.9 901,621.3 917,615.5 933,610.5 949,605.4 965,601.6 981,599.6 997,599.6 1013,599.6 1029,602.2 1045,605.4 1061,608.0 1077,612.5 1093,617.3 1109,623.9 1125,628.1 1141,632.7 1157,636.5 1173,639.5 1189,639.5 1205,639.2 1221,637.0 1237,633.9 1253,630.6 1269,626.9 1285,623.0 1301,619.1" fill="none" stroke="#ff0000" stroke-width="2" stroke-linejoin="round" shape-rendering="crispEdges"/><rect x="4" y="576" width="1" height="114" fill="#000"/><text x="10" y="588" font-size="9.9px" fill="#000" stroke="#000" stroke-width="0.12" textLength="149" lengthAdjust="spacing">MACD(12,26,9) 0.000112 -0.000421</text><g shape-rendering="crispEdges" fill="#000"><rect x="1618" y="577" width="1" height="1"/><rect x="1618" y="612" width="2" height="1"/><rect x="1618" y="689" width="1" height="1"/></g><g class="ax" font-size="9.9px" fill="#000" color="#000"><text x="1621" y="586" textLength="37.5" lengthAdjust="spacingAndGlyphs">0.002015</text><text x="1621" y="616" textLength="18" lengthAdjust="spacingAndGlyphs">0.00</text><text x="1621" y="687" textLength="40.5" lengthAdjust="spacingAndGlyphs">-0.004451</text></g><polyline points="5,764.9 21,770.7 37,767.7 53,764.4 69,762.7 85,761.9 101,761.1 117,766.4 133,766.9 149,772.5 165,775.8 181,777 197,777 213,761.9 229,753.1 245,756.1 261,756.1 277,751.8 293,755.1 309,755.1 325,753.1 341,753.1 357,757.4 373,757.6 389,740.5 405,736.7 421,742.5 437,742.5 453,741.7 469,743 485,750.5 501,753.1 517,758.6 533,757.4 549,753.6 565,753.8 581,760.6 597,761.9 613,761.9 629,761.9 645,761.4 661,759.9 677,766.9 693,775 709,775 725,774 741,774 757,770.7 773,761.9 789,744.7 805,744.2 821,743.7 837,746 853,749.8 869,737.9 885,736.7 901,749.8 917,753.8 933,752.3 949,745.5 965,750.5 981,758.6 997,757.6 1013,756.1 1029,758.6 1045,763.2 1061,763.2 1077,767.7 1093,769 1109,766.9 1125,763.7 1141,761.9 1157,755.9 1173,759 1189,745.9 1205,748.9 1221,746.8 1237,746.8 1253,755 1269,751.1 1285,752 1301,751.7" fill="none" stroke="#1e90ff" stroke-width="2" stroke-linejoin="round" shape-rendering="crispEdges"/><g shape-rendering="crispEdges"><line x1="6" y1="717.5" x2="1617" y2="717.5" stroke="#000" stroke-width="1" stroke-dasharray="3 3" stroke-dashoffset="0"/><line x1="6" y1="753.5" x2="1617" y2="753.5" stroke="#000" stroke-width="1" stroke-dasharray="3 3" stroke-dashoffset="0"/><line x1="6" y1="795.5" x2="1617" y2="795.5" stroke="#000" stroke-width="1" stroke-dasharray="3 3" stroke-dashoffset="0"/></g><rect x="4" y="693" width="1" height="120" fill="#000"/><text x="9" y="706" font-size="9.9px" fill="#000" stroke="#000" stroke-width="0.12" textLength="68" lengthAdjust="spacing">RSI(14) 51.3645</text><g shape-rendering="crispEdges" fill="#000"><rect x="1618" y="694" width="1" height="1"/></g><g class="ax" font-size="9.9px" fill="#000" color="#000"><text x="1621" y="703" textLength="15" lengthAdjust="spacingAndGlyphs">100</text><text x="1620" y="721" textLength="10" lengthAdjust="spacingAndGlyphs">80</text><text x="1620" y="757" textLength="10" lengthAdjust="spacingAndGlyphs">50</text><text x="1620" y="799" textLength="10" lengthAdjust="spacingAndGlyphs">15</text><text x="1621" y="810" textLength="5" lengthAdjust="spacingAndGlyphs">0</text></g><g shape-rendering="crispEdges" fill="#000"><rect x="5" y="814" width="1" height="3"/><rect x="69" y="814" width="1" height="3"/><rect x="133" y="814" width="1" height="3"/><rect x="197" y="814" width="1" height="3"/><rect x="261" y="814" width="1" height="3"/><rect x="325" y="814" width="1" height="3"/><rect x="389" y="814" width="1" height="3"/><rect x="453" y="814" width="1" height="3"/><rect x="517" y="814" width="1" height="3"/><rect x="581" y="814" width="1" height="3"/><rect x="645" y="814" width="1" height="3"/><rect x="709" y="814" width="1" height="3"/><rect x="773" y="814" width="1" height="3"/><rect x="837" y="814" width="1" height="3"/><rect x="901" y="814" width="1" height="3"/><rect x="965" y="814" width="1" height="3"/><rect x="1029" y="814" width="1" height="3"/><rect x="1093" y="814" width="1" height="3"/><rect x="1157" y="814" width="1" height="3"/><rect x="1221" y="814" width="1" height="3"/><rect x="1285" y="814" width="1" height="3"/></g><g class="ax" font-size="9.9px" fill="#000" color="#000"><text x="5" y="826" textLength="50.5" lengthAdjust="spacingAndGlyphs">15 Feb 2023</text><text x="69" y="826" textLength="54.5" lengthAdjust="spacingAndGlyphs">16 Feb 00:00</text><text x="133" y="826" textLength="54.5" lengthAdjust="spacingAndGlyphs">16 Feb 16:00</text><text x="197" y="826" textLength="54.5" lengthAdjust="spacingAndGlyphs">17 Feb 08:00</text><text x="261" y="826" textLength="54.5" lengthAdjust="spacingAndGlyphs">20 Feb 00:00</text><text x="325" y="826" textLength="54.5" lengthAdjust="spacingAndGlyphs">20 Feb 16:00</text><text x="389" y="826" textLength="54.5" lengthAdjust="spacingAndGlyphs">21 Feb 08:00</text><text x="453" y="826" textLength="54.5" lengthAdjust="spacingAndGlyphs">22 Feb 00:00</text><text x="517" y="826" textLength="54.5" lengthAdjust="spacingAndGlyphs">22 Feb 16:00</text><text x="581" y="826" textLength="54.5" lengthAdjust="spacingAndGlyphs">23 Feb 08:00</text><text x="645" y="826" textLength="54.5" lengthAdjust="spacingAndGlyphs">24 Feb 00:00</text><text x="709" y="826" textLength="54.5" lengthAdjust="spacingAndGlyphs">24 Feb 16:00</text><text x="773" y="826" textLength="54.5" lengthAdjust="spacingAndGlyphs">27 Feb 08:00</text><text x="837" y="826" textLength="54.5" lengthAdjust="spacingAndGlyphs">28 Feb 00:00</text><text x="901" y="826" textLength="54.5" lengthAdjust="spacingAndGlyphs">28 Feb 16:00</text><text x="965" y="826" textLength="49.5" lengthAdjust="spacingAndGlyphs">1 Mar 08:00</text><text x="1029" y="826" textLength="49.5" lengthAdjust="spacingAndGlyphs">2 Mar 00:00</text><text x="1093" y="826" textLength="49.5" lengthAdjust="spacingAndGlyphs">2 Mar 16:00</text><text x="1157" y="826" textLength="49.5" lengthAdjust="spacingAndGlyphs">3 Mar 08:00</text><text x="1221" y="826" textLength="49.5" lengthAdjust="spacingAndGlyphs">6 Mar 00:00</text><text x="1285" y="826" textLength="49.5" lengthAdjust="spacingAndGlyphs">6 Mar 16:00</text></g></svg></body></html>
